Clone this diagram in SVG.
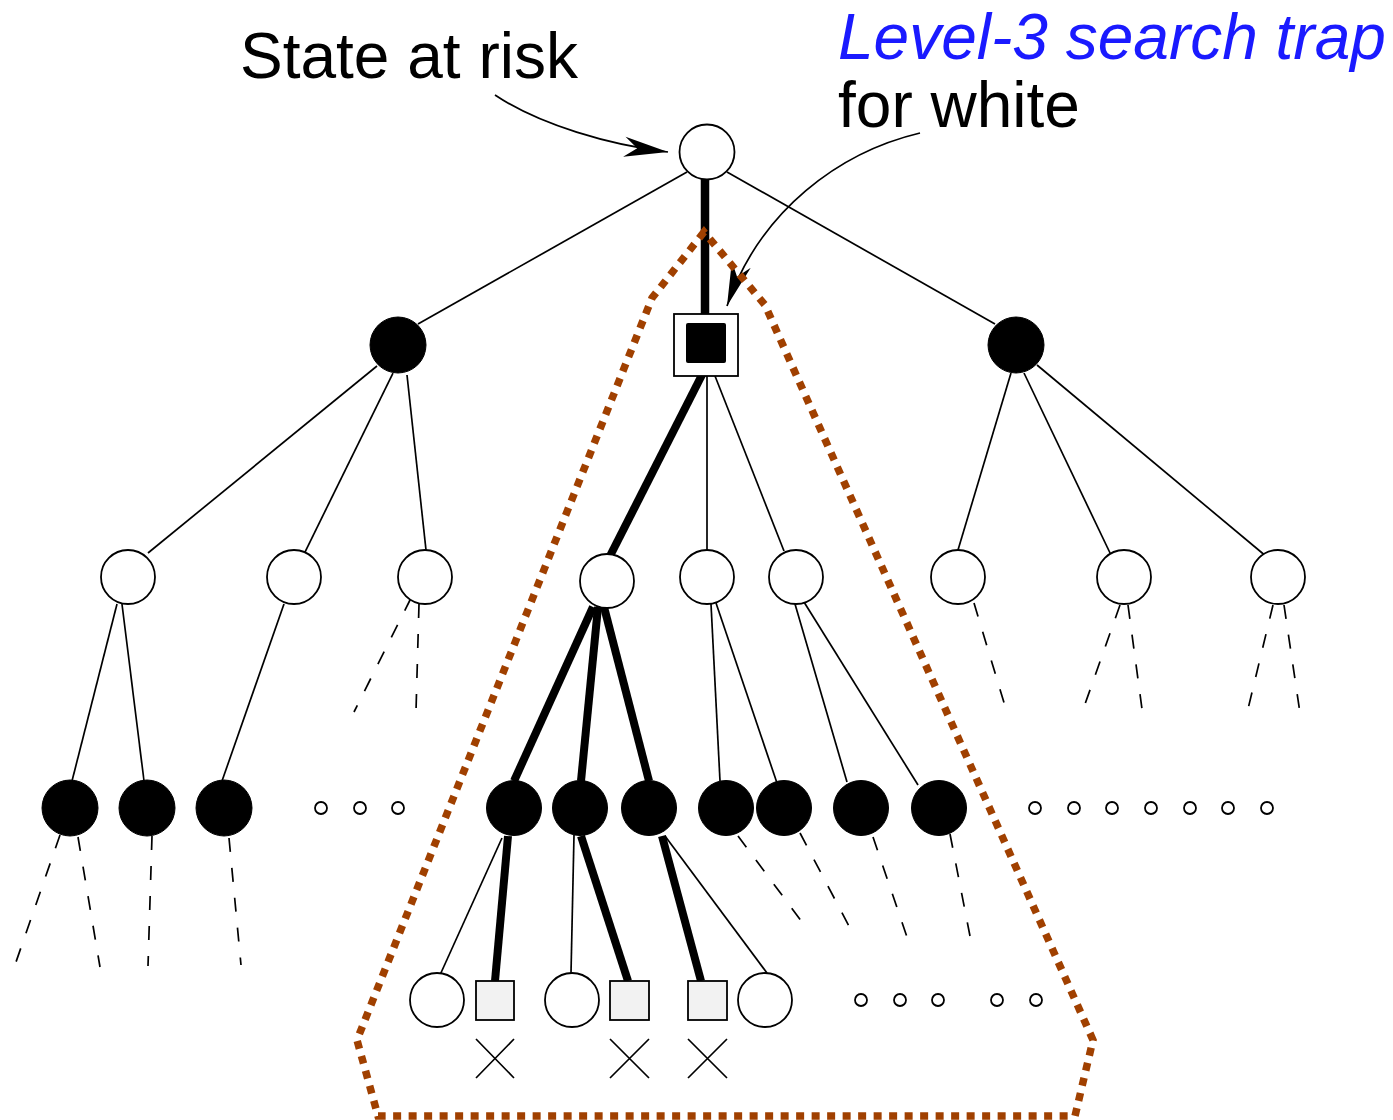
<svg xmlns="http://www.w3.org/2000/svg" width="1393" height="1120" viewBox="0 0 1393 1120">
<defs>
<style>
.e{stroke:#000;stroke-width:1.7;fill:none}
.t{stroke:#000;stroke-width:8;fill:none;stroke-linecap:butt}
.d{stroke:#000;stroke-width:1.7;fill:none;stroke-dasharray:14 16}
.w{fill:#fff;stroke:#000;stroke-width:1.8}
.b{fill:#000;stroke:#000;stroke-width:1}
.s{fill:#f2f2f2;stroke:#000;stroke-width:1.8}
.dot{fill:none;stroke:#000;stroke-width:1.8}
.lbl{font-family:"Liberation Sans",Arial,sans-serif;font-size:64px}
</style>
<marker id="ah" viewBox="-46 -12 48 24" refX="0" refY="0" markerWidth="48" markerHeight="24" markerUnits="userSpaceOnUse" orient="auto">
<path d="M0,0 L-44,-10 L-31,0 L-44,10 Z" fill="#000"/>
</marker>
</defs>
<rect width="1393" height="1120" fill="#fff"/>

<g id="connectors">
<!-- root -->
<line class="e" x1="687" y1="172" x2="418" y2="324"/>
<line class="e" x1="727" y1="172" x2="995" y2="324"/>
<line class="t" x1="705" y1="179" x2="705" y2="314" style="stroke-width:8.5"/>
<!-- left black -->
<line class="e" x1="377" y1="366" x2="148" y2="553"/>
<line class="e" x1="393" y1="373" x2="305" y2="552"/>
<line class="e" x1="407" y1="375" x2="426" y2="550"/>
<!-- square -->
<line class="t" x1="706" y1="367" x2="610" y2="556"/>
<line class="e" x1="707" y1="376" x2="707" y2="550"/>
<line class="e" x1="715" y1="376" x2="784" y2="551"/>
<!-- right black -->
<line class="e" x1="1011" y1="373" x2="958" y2="550"/>
<line class="e" x1="1024" y1="373" x2="1111" y2="555"/>
<line class="e" x1="1037" y1="365" x2="1267" y2="557"/>
<!-- level 2 -->
<line class="e" x1="117" y1="604" x2="72" y2="781"/>
<line class="e" x1="122" y1="604" x2="144" y2="781"/>
<line class="e" x1="284" y1="604" x2="222" y2="781"/>
<line class="d" x1="411" y1="598" x2="354" y2="712"/>
<line class="d" x1="419" y1="604" x2="416" y2="711"/>
<line class="t" x1="593" y1="607" x2="514" y2="781"/>
<line class="t" x1="598" y1="607" x2="581" y2="781"/>
<line class="t" x1="604" y1="607" x2="649" y2="781"/>
<line class="e" x1="711" y1="604" x2="720" y2="781"/>
<line class="e" x1="716" y1="603" x2="777" y2="783"/>
<line class="e" x1="795" y1="604" x2="847" y2="782"/>
<line class="e" x1="804" y1="602" x2="918" y2="785"/>
<line class="d" x1="974" y1="603" x2="1005" y2="706"/>
<line class="d" x1="1120" y1="605" x2="1084" y2="707"/>
<line class="d" x1="1128" y1="605" x2="1142" y2="709"/>
<line class="d" x1="1273" y1="605" x2="1248" y2="709"/>
<line class="d" x1="1284" y1="605" x2="1300" y2="713"/>
<!-- level 3 -->
<line class="d" x1="60" y1="835" x2="16" y2="962"/>
<line class="d" x1="78" y1="837" x2="100" y2="967"/>
<line class="d" x1="152" y1="836" x2="148" y2="966"/>
<line class="d" x1="229" y1="838" x2="241" y2="965"/>
<line class="e" x1="502" y1="838" x2="440" y2="975"/>
<line class="t" x1="508" y1="836" x2="495" y2="981"/>
<line class="e" x1="574" y1="835" x2="571" y2="973"/>
<line class="t" x1="581" y1="836" x2="628" y2="981"/>
<line class="t" x1="662" y1="836" x2="701" y2="981"/>
<line class="e" x1="665" y1="836" x2="767" y2="973"/>
<line class="d" x1="738" y1="836" x2="802" y2="922"/>
<line class="d" x1="800" y1="833" x2="850" y2="928"/>
<line class="d" x1="873" y1="837" x2="907" y2="937"/>
<line class="d" x1="950" y1="834" x2="970" y2="936"/>
<!-- label arrows -->
<path class="e" d="M495,95 C540,125 610,145 668,152" marker-end="url(#ah)"/>
<path class="e" d="M920,133 C840,152 760,210 727,306" marker-end="url(#ah)"/>
</g>

<g id="root"><circle class="w" cx="707" cy="152" r="27.5"/></g>
<g id="n1-left"><circle class="b" cx="398" cy="345" r="28"/></g>
<g id="n1-mid"><rect class="w" x="674" y="314" width="64" height="62"/><rect x="686" y="323" width="40" height="40" rx="2" fill="#000"/></g>
<g id="n1-right"><circle class="b" cx="1016" cy="345" r="28"/></g>

<g id="n2-1"><circle class="w" cx="128" cy="577" r="27"/></g>
<g id="n2-2"><circle class="w" cx="294" cy="577" r="27"/></g>
<g id="n2-3"><circle class="w" cx="425" cy="577" r="27"/></g>
<g id="n2-4"><circle class="w" cx="607" cy="581" r="27"/></g>
<g id="n2-5"><circle class="w" cx="707" cy="577" r="27"/></g>
<g id="n2-6"><circle class="w" cx="796" cy="577" r="27"/></g>
<g id="n2-7"><circle class="w" cx="958" cy="577" r="27"/></g>
<g id="n2-8"><circle class="w" cx="1124" cy="577" r="27"/></g>
<g id="n2-9"><circle class="w" cx="1278" cy="577" r="27"/></g>

<g id="n3-1"><circle class="b" cx="70" cy="808" r="28"/></g>
<g id="n3-2"><circle class="b" cx="147" cy="808" r="28"/></g>
<g id="n3-3"><circle class="b" cx="224" cy="808" r="28"/></g>
<g id="n3-4"><circle class="b" cx="514" cy="808" r="27.5"/></g>
<g id="n3-5"><circle class="b" cx="580" cy="808" r="27.5"/></g>
<g id="n3-6"><circle class="b" cx="649" cy="808" r="27.5"/></g>
<g id="n3-7"><circle class="b" cx="726" cy="808" r="27.5"/></g>
<g id="n3-8"><circle class="b" cx="784" cy="808" r="27.5"/></g>
<g id="n3-9"><circle class="b" cx="861" cy="808" r="27.5"/></g>
<g id="n3-10"><circle class="b" cx="939" cy="808" r="27.5"/></g>

<g id="dots3">
<circle class="dot" cx="321" cy="808" r="6"/><circle class="dot" cx="360" cy="808" r="6"/><circle class="dot" cx="398" cy="808" r="6"/>
<circle class="dot" cx="1035" cy="808" r="6"/><circle class="dot" cx="1074" cy="808" r="6"/><circle class="dot" cx="1112" cy="808" r="6"/><circle class="dot" cx="1151" cy="808" r="6"/><circle class="dot" cx="1190" cy="808" r="6"/><circle class="dot" cx="1228" cy="808" r="6"/><circle class="dot" cx="1267" cy="808" r="6"/>
</g>

<g id="n4-1"><circle class="w" cx="437" cy="1000" r="27"/></g>
<g id="n4-2"><rect class="s" x="476" y="981" width="38" height="39"/><path class="e" d="M476,1039 L514,1078 M514,1039 L476,1078"/></g>
<g id="n4-3"><circle class="w" cx="572" cy="1000" r="27"/></g>
<g id="n4-4"><rect class="s" x="610" y="981" width="39" height="39"/><path class="e" d="M610,1039 L649,1078 M649,1039 L610,1078"/></g>
<g id="n4-5"><rect class="s" x="688" y="981" width="39" height="39"/><path class="e" d="M688,1039 L727,1078 M727,1039 L688,1078"/></g>
<g id="n4-6"><circle class="w" cx="765" cy="1000" r="27"/></g>

<g id="dots4">
<circle class="dot" cx="861" cy="1000" r="6"/><circle class="dot" cx="900" cy="1000" r="6"/><circle class="dot" cx="938" cy="1000" r="6"/><circle class="dot" cx="997" cy="1000" r="6"/><circle class="dot" cx="1036" cy="1000" r="6"/>
</g>

<g id="trap">
<polygon points="704,232 652,298 357,1040 378,1116 1075,1116 1093,1040 765,305" fill="none" stroke="#a04000" stroke-width="7.5" stroke-dasharray="8 7.5"/>
</g>

<g id="labels">
<text class="lbl" x="240" y="78">State at risk</text>
<text class="lbl" x="838" y="59" fill="#1a1aff" font-style="italic">Level-3 search trap</text>
<text class="lbl" x="838" y="127">for white</text>
</g>
</svg>
